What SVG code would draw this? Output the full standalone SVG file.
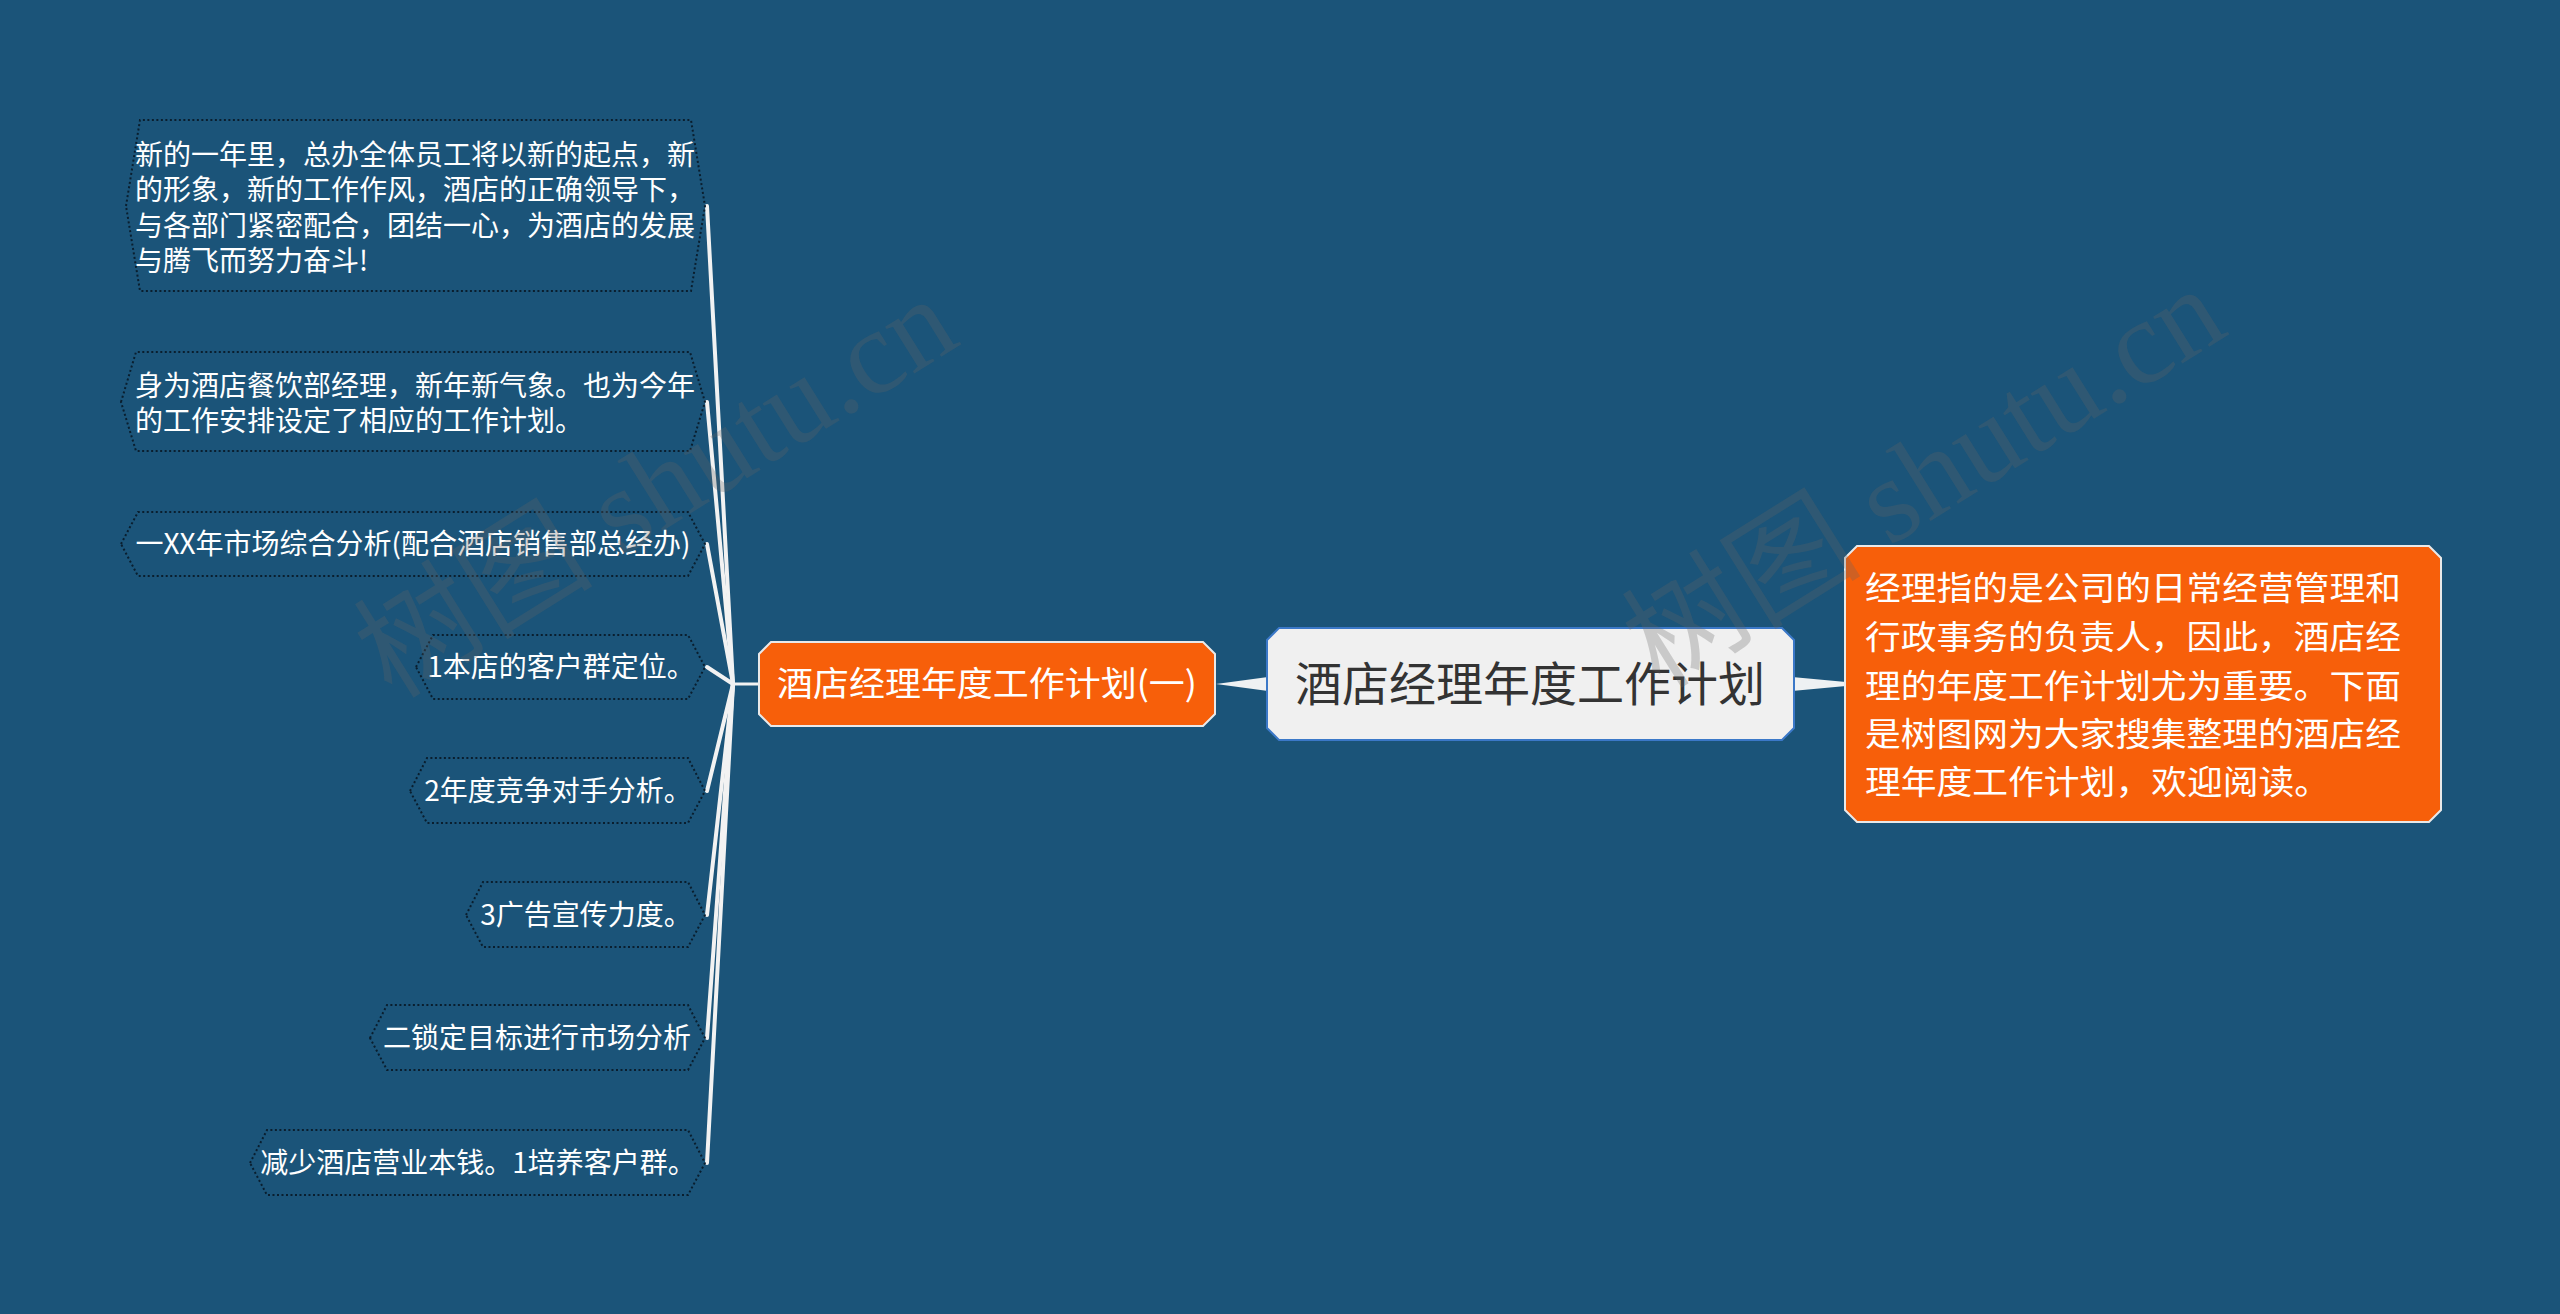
<svg xmlns="http://www.w3.org/2000/svg" width="2560" height="1314" viewBox="0 0 2560 1314">
<style>
.bg{fill:#1b5479}
.leaf{fill:#1b5479;stroke:#0a1e2e;stroke-width:2;stroke-dasharray:2 2.5}
.lt{font-family:"Noto Sans CJK SC","Noto Sans",sans-serif;font-size:28px;fill:#ffffff}
.conn{stroke:#f2f2f2;stroke-width:4;stroke-linecap:round;fill:none}
.taper{fill:#eef1f3}
.orange{fill:#f75f0a;stroke:#e9e9e9;stroke-width:2}
.ot{font-family:"Noto Sans CJK SC","Noto Sans",sans-serif;fill:#ffffff}
.wm{font-family:"Liberation Serif","Noto Sans CJK SC",serif;font-size:120px;fill:#666666;fill-opacity:0.28}
</style>
<rect class="bg" x="0" y="0" width="2560" height="1314"/>

<g id="connectors">
<line class="conn" x1="733" y1="684" x2="707" y2="206"/>
<line class="conn" x1="733" y1="684" x2="707" y2="402"/>
<line class="conn" x1="733" y1="684" x2="707" y2="544"/>
<line class="conn" x1="733" y1="684" x2="707" y2="667"/>
<line class="conn" x1="733" y1="684" x2="707" y2="791"/>
<line class="conn" x1="733" y1="684" x2="707" y2="915"/>
<line class="conn" x1="733" y1="684" x2="707" y2="1038"/>
<line class="conn" x1="733" y1="684" x2="707" y2="1163"/>
<line class="conn" style="stroke-width:3" x1="733" y1="684" x2="760" y2="684"/>
<polygon class="taper" points="1216,684 1268,677 1268,691"/>
<polygon class="taper" points="1792,677 1792,691 1846,686 1846,682"/>
</g>

<g id="node-root">
<polygon points="1279,628 1782,628 1794,640 1794,728 1782,740 1279,740 1267,728 1267,640" fill="#f0f0f0" stroke="#3b78c8" stroke-width="2"/>
<text x="1530" y="701" text-anchor="middle" font-family="Noto Sans CJK SC,Noto Sans,sans-serif" font-size="47" fill="#333333">酒店经理年度工作计划</text>
</g>

<g id="node-desc">
<polygon class="orange" points="1857,546 2429,546 2441,558 2441,810 2429,822 1857,822 1845,810 1845,558"/>
<text class="ot" font-size="33" x="1865" y="600" textLength="536" lengthAdjust="spacingAndGlyphs">经理指的是公司的日常经营管理和</text>
<text class="ot" font-size="33" x="1865" y="649" textLength="536" lengthAdjust="spacingAndGlyphs">行政事务的负责人，因此，酒店经</text>
<text class="ot" font-size="33" x="1865" y="698" textLength="536" lengthAdjust="spacingAndGlyphs">理的年度工作计划尤为重要。下面</text>
<text class="ot" font-size="33" x="1865" y="746" textLength="536" lengthAdjust="spacingAndGlyphs">是树图网为大家搜集整理的酒店经</text>
<text class="ot" font-size="33" x="1865" y="794" textLength="465" lengthAdjust="spacingAndGlyphs">理年度工作计划，欢迎阅读。</text>
</g>

<g id="node-plan1">
<polygon class="orange" points="771,642 1203,642 1215,654 1215,714 1203,726 771,726 759,714 759,654"/>
<text class="ot" font-size="34" x="987" y="696" text-anchor="middle" textLength="420" lengthAdjust="spacingAndGlyphs">酒店经理年度工作计划(一)</text>
</g>

<g id="leaf-1">
<polygon class="leaf" points="126,206 140,120 691,120 705,206 691,291 140,291"/>
<text class="lt" x="135" y="165">新的一年里，总办全体员工将以新的起点，新</text>
<text class="lt" x="135" y="200">的形象，新的工作作风，酒店的正确领导下，</text>
<text class="lt" x="135" y="236">与各部门紧密配合，团结一心，为酒店的发展</text>
<text class="lt" x="135" y="271">与腾飞而努力奋斗!</text>
</g>

<g id="leaf-2">
<polygon class="leaf" points="121,402 136,352 690,352 705,402 690,451 136,451"/>
<text class="lt" x="135" y="396">身为酒店餐饮部经理，新年新气象。也为今年</text>
<text class="lt" x="135" y="431">的工作安排设定了相应的工作计划。</text>
</g>

<g id="leaf-3">
<polygon class="leaf" points="121,544 138,512 688,512 705,544 688,576 138,576"/>
<text class="lt" x="413" y="554" text-anchor="middle">一XX年市场综合分析(配合酒店销售部总经办)</text>
</g>

<g id="leaf-4">
<polygon class="leaf" points="416,667 433,635 688,635 705,667 688,699 433,699"/>
<text class="lt" x="561" y="677" text-anchor="middle">1本店的客户群定位。</text>
</g>

<g id="leaf-5">
<polygon class="leaf" points="410,791 427,758 688,758 705,791 688,823 427,823"/>
<text class="lt" x="558" y="801" text-anchor="middle">2年度竞争对手分析。</text>
</g>

<g id="leaf-6">
<polygon class="leaf" points="466,915 483,882 688,882 705,915 688,947 483,947"/>
<text class="lt" x="586" y="925" text-anchor="middle">3广告宣传力度。</text>
</g>

<g id="leaf-7">
<polygon class="leaf" points="370,1038 387,1005 688,1005 705,1038 688,1070 387,1070"/>
<text class="lt" x="537" y="1048" text-anchor="middle">二锁定目标进行市场分析</text>
</g>

<g id="leaf-8">
<polygon class="leaf" points="250,1163 267,1130 688,1130 705,1163 688,1195 267,1195"/>
<text class="lt" x="478" y="1173" text-anchor="middle">减少酒店营业本钱。1培养客户群。</text>
</g>

<g id="watermarks">
<text class="wm" transform="translate(392,700) rotate(-32)">树图 shutu.cn</text>
<text class="wm" transform="translate(1660,690) rotate(-32)">树图 shutu.cn</text>
</g>
</svg>
